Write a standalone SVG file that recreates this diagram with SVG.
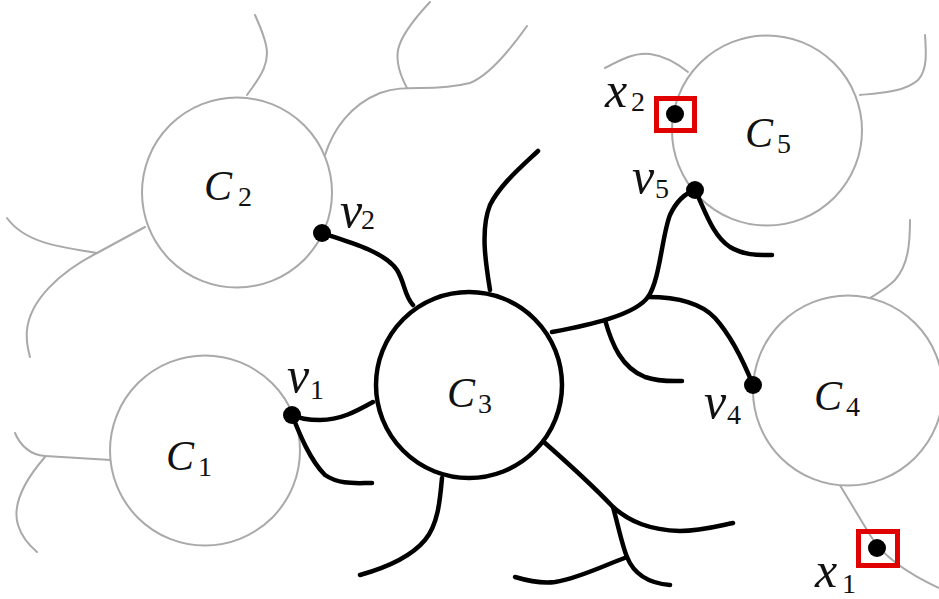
<svg xmlns="http://www.w3.org/2000/svg" width="939" height="599" viewBox="0 0 939 599">
<style>
.g{fill:none;stroke:#a9a9a9;stroke-width:2;stroke-linecap:round}
.gc{fill:#fff;stroke:#a9a9a9;stroke-width:2}
.bc{fill:#fff;stroke:#000;stroke-width:4.5}
.e{fill:none;stroke:#000;stroke-width:4.5;stroke-linecap:round}
.dot{fill:#000}
.box{fill:none;stroke:#e00000;stroke-width:5}
.lab{font-family:"Liberation Serif",serif;font-style:italic;font-size:42px;fill:#111}
.vl{font-family:"Liberation Serif",serif;font-style:italic;font-size:50px;fill:#111}
.sub{font-family:"Liberation Serif",serif;font-style:normal;font-size:28px;fill:#111}
</style>
<rect width="939" height="599" fill="#fff"/>
<g id="background-edges">
<path class="g" d="M247,95 C262,75 270,62 266,45 C263,32 258,22 255,15"/>
<path class="g" d="M325,155 C333,130 350,105 380,93 C395,88 405,88 420,88 C440,88 458,86 470,83 C490,75 510,50 527,26"/>
<path class="g" d="M407,88 C400,75 396,62 398,50 C401,35 415,18 430,2"/>
<path class="g" d="M145,227 L97,253 C60,272 30,300 27,330 C26,340 28,350 30,357"/>
<path class="g" d="M97,253 C60,247 25,243 7,218"/>
<path class="g" d="M111,460 L45,456 C30,455 20,445 15,433"/>
<path class="g" d="M45,457 C25,480 12,505 18,525 C22,538 30,546 37,552"/>
<path class="g" d="M605,68 C620,60 635,52 650,54 C665,56 678,64 688,72"/>
<path class="g" d="M860,95 C880,93 905,92 918,80 C928,70 926,50 925,35"/>
<path class="g" d="M910,220 C910,245 908,265 895,280 C887,288 878,293 870,298"/>
<path class="g" d="M838,482 L870,535 C880,552 900,570 939,588"/>
</g>
<g id="C2"><circle class="gc" cx="237" cy="192.5" r="95"/><text class="lab" x="204" y="200">C</text><text class="sub" x="238" y="206">2</text></g>
<g id="C1"><circle class="gc" cx="205" cy="450.5" r="95"/><text class="lab" x="166" y="470">C</text><text class="sub" x="198" y="476">1</text></g>
<g id="C5"><circle class="gc" cx="767" cy="130.5" r="95"/><text class="lab" x="745" y="147">C</text><text class="sub" x="777" y="153">5</text></g>
<g id="C4"><circle class="gc" cx="848" cy="390.5" r="95"/><text class="lab" x="814" y="410">C</text><text class="sub" x="846" y="416">4</text></g>
<g id="connectors">
<path class="e" d="M322,233 C350,242 385,252 397,270 C405,283 404,295 413,305"/>
<path class="e" d="M490,290 C486,265 480,230 490,205 C500,185 520,168 538,151"/>
<path class="e" d="M552,332 C590,325 635,315 648,297 C660,280 662,235 670,215 C677,200 686,193 695,190"/>
<path class="e" d="M648,297 C675,297 700,302 715,318 C732,337 745,365 753,385"/>
<path class="e" d="M605,320 C612,345 622,368 645,377 C660,382 672,381 682,381"/>
<path class="e" d="M695,190 C705,210 712,235 730,247 C745,256 760,255 772,255"/>
<path class="e" d="M373,402 C355,412 340,420 320,420 C305,420 298,418 292,415"/>
<path class="e" d="M292,415 C300,435 310,460 325,475 C340,485 355,483 372,483"/>
<path class="e" d="M442,478 C440,500 438,525 425,540 C410,558 385,568 360,575"/>
<path class="e" d="M545,443 C570,465 595,488 613,507 C630,522 650,530 680,531 C700,531 718,526 733,523"/>
<path class="e" d="M613,507 C618,525 622,545 627,557 C633,572 645,583 670,585"/>
<path class="e" d="M627,557 C605,565 580,578 555,582 C540,584 525,580 515,577"/>
</g>
<g id="C3"><circle class="bc" cx="469" cy="385" r="93"/><text class="lab" x="447" y="407">C</text><text class="sub" x="478" y="413">3</text></g>
<g id="v2"><circle class="dot" cx="322" cy="233" r="9"/><text class="vl" x="340" y="227">v</text><text class="sub" x="361" y="229">2</text></g>
<g id="v1"><circle class="dot" cx="292" cy="415" r="9"/><text class="vl" x="287" y="392">v</text><text class="sub" x="310" y="399">1</text></g>
<g id="v5"><circle class="dot" cx="695" cy="190" r="9"/><text class="vl" x="632" y="193">v</text><text class="sub" x="655" y="198">5</text></g>
<g id="v4"><circle class="dot" cx="753" cy="385" r="9"/><text class="vl" x="704" y="418">v</text><text class="sub" x="727" y="424">4</text></g>
<g id="x2"><rect class="box" x="656.5" y="98.5" width="38" height="32"/><circle class="dot" cx="675" cy="114" r="9"/><text class="vl" x="605" y="107">x</text><text class="sub" x="631" y="111">2</text></g>
<g id="x1"><rect class="box" x="858.5" y="531.5" width="39" height="34"/><circle class="dot" cx="877" cy="548" r="9"/><text class="vl" x="815" y="587">x</text><text class="sub" x="842" y="593">1</text></g>
</svg>
